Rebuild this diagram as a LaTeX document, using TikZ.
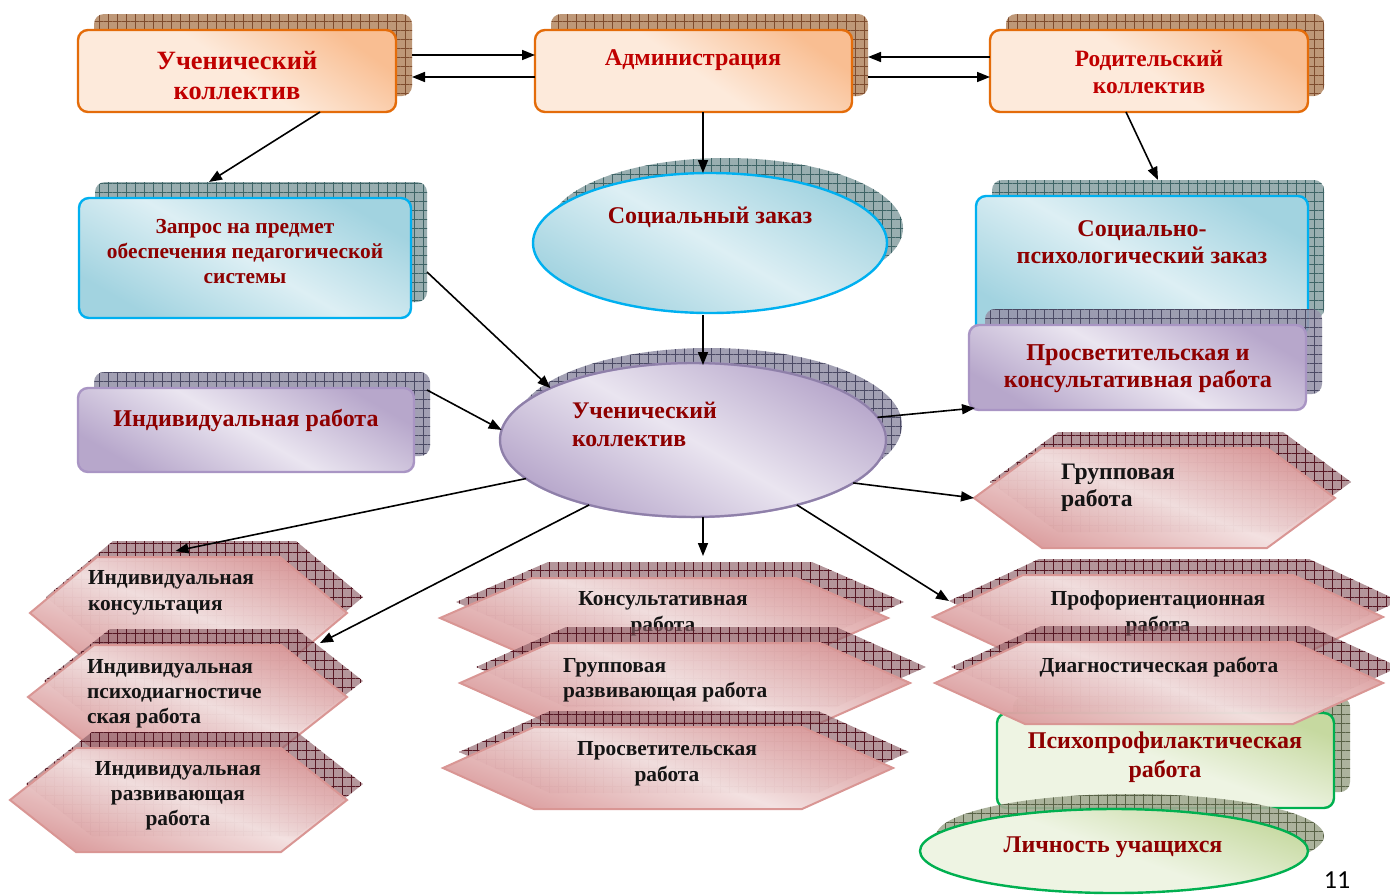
\documentclass[tikz,border=0pt]{standalone}
\usepackage{fontspec}
\setmainfont{Liberation Serif}
\newfontfamily\numfont{Carlito}
\usetikzlibrary{shapes.geometric,patterns.meta,calc,arrows.meta}
\definecolor{tred}{HTML}{C00000}
\definecolor{dred}{HTML}{8E0000}
\definecolor{hexink}{HTML}{141414}
% orange
\definecolor{or0}{HTML}{FDEADB}
\definecolor{or1}{HTML}{F9BE92}
\definecolor{orB}{HTML}{E46C0A}
\definecolor{orS}{HTML}{BE9878}
\definecolor{orL}{HTML}{7E4C2E}
% blue
\definecolor{bl0}{HTML}{DDEFF4}
\definecolor{bl1}{HTML}{A2D3E0}
\definecolor{blB}{HTML}{00B0F0}
\definecolor{blS}{HTML}{8FA6A8}
\definecolor{blL}{HTML}{3E6466}
% purple
\definecolor{pu0}{HTML}{EAE5F0}
\definecolor{pu1}{HTML}{B7A7CB}
\definecolor{puB}{HTML}{A995C4}
\definecolor{puE}{HTML}{8E80A8}
\definecolor{puS}{HTML}{9896AB}
\definecolor{puL}{HTML}{4B4A64}
% pink
\definecolor{pk0}{HTML}{F3E0E0}
\definecolor{pk1}{HTML}{DA9A9B}
\definecolor{pkB}{HTML}{D99694}
\definecolor{pkS}{HTML}{8E6068}
\definecolor{pkL}{HTML}{561824}
% green
\definecolor{gr0}{HTML}{EEF4E3}
\definecolor{gr1}{HTML}{C6D9A0}
\definecolor{grB}{HTML}{00B050}
\definecolor{grS}{HTML}{A3AB93}
\definecolor{grL}{HTML}{586246}
\tikzset{
  hatchgrid/.style={postaction={pattern={Hatch[distance=4.5pt,angle=0,line width=0.35pt]},pattern color=#1}},
  rbox/.style={rectangle,rounded corners=5pt,inner sep=0pt,outer sep=0pt},
  inv/.style={rectangle,inner sep=0pt,outer sep=0pt,draw=none},
  orsh/.style={fill=orS,hatchgrid=orL},
  blsh/.style={fill=blS,fill opacity=0.9,hatchgrid=blL},
  push/.style={fill=puS,fill opacity=0.9,hatchgrid=puL},
  grsh/.style={fill=grS,fill opacity=0.9,hatchgrid=grL},
  hexsh/.style={fill=pkS,fill opacity=0.66,hatchgrid=pkL},
  ormain/.style={draw=orB,line width=1.2pt,top color=or1,bottom color=or0,middle color=or0,shading angle=-35},
  blmain/.style={draw=blB,line width=1.2pt,top color=bl1,bottom color=bl1,middle color=bl0,shading angle=-30},
  pumain/.style={draw=puB,line width=1.2pt,top color=pu1,bottom color=pu1,middle color=pu0,shading angle=-30},
  puell/.style={draw=puE,line width=1pt},
  grmain/.style={draw=grB,line width=1.2pt,top color=gr1,bottom color=gr0,middle color=gr0,shading angle=-20},
  hexmain/.style={draw=pkB,line width=1pt,fill opacity=0.96,top color=pk1,bottom color=pk1,middle color=pk0,shading angle=-20},
  txt/.style={inner sep=0pt,outer sep=0pt,align=center},
  arr/.style={line width=0.8pt,-{Triangle[length=6.5pt,width=5pt]}},
}
\newcommand\MkBox[6]{%
  \node[rbox,#2sh,minimum width={(#5-#3)*0.5pt},minimum height={(#6-#4)*0.5pt}] (#1-s) at ({(#3+#5)/2+16},{(#4+#6)/2-16}) {};
  \node[rbox,#2main,minimum width={(#5-#3)*0.5pt},minimum height={(#6-#4)*0.5pt}] (#1) at ({(#3+#5)/2},{(#4+#6)/2}) {};}
\newcommand\MkHex[6]{%
  \path[hexsh] ({#2+16-#4},{#3-16}) -- ++(#6,-#5) -- ++({2*#4-2*#6},0) -- ++(#6,#5) -- ++(-#6,#5) -- ++({-2*#4+2*#6},0) -- cycle;
  \node[inv,minimum width={#4*1pt},minimum height={#5*1pt}] (#1-s) at ({#2+16},{#3-16}) {};
  \path[hexmain] ({#2-#4},#3) -- ++(#6,-#5) -- ++({2*#4-2*#6},0) -- ++(#6,#5) -- ++(-#6,#5) -- ++({-2*#4+2*#6},0) -- cycle;
  \node[inv,minimum width={#4*1pt},minimum height={#5*1pt}] (#1) at (#2,#3) {};}
\newcommand\MkEll[6]{%
  \node[ellipse,inner sep=0pt,outer sep=0pt,#2sh,minimum width={#5*1pt},minimum height={#6*1pt}] (#1-s) at ({#3+16},{#4-15}) {};
  \node[ellipse,inner sep=0pt,outer sep=0pt,#2main,minimum width={#5*1pt},minimum height={#6*1pt}] (#1) at (#3,#4) {};}
\begin{document}
\begin{tikzpicture}[x=0.5pt,y=-0.5pt]
\useasboundingbox (0,0) rectangle (1390,894);
\clip (0,0) rectangle (1390,894);
\fill[white] (0,0) rectangle (1390,894);

% ---- top row
\MkBox{A}{or}{78}{30}{396}{112}
\node[txt,font=\fontsize{13.2}{15}\selectfont\bfseries,text=tred] (A-t) at (237,76) {Ученический\\коллектив};
\MkBox{B}{or}{535}{30}{852}{112}
\node[txt,font=\fontsize{12}{14}\selectfont\bfseries,text=tred] (B-t) at (693,60) {Администрация};
\MkBox{C}{or}{990}{30}{1308}{112}
\node[txt,font=\fontsize{11.7}{13.5}\selectfont\bfseries,text=tred] (C-t) at (1149,72) {Родительский\\коллектив};

% ---- second row
\MkBox{Q}{bl}{79}{198}{411}{318}
\node[txt,font=\fontsize{10.7}{12.5}\selectfont\bfseries,text=dred] (Q-t) at (245,252) {Запрос на предмет\\обеспечения педагогической\\системы};
\MkEll{SZ}{bl}{710}{243}{177}{70}
\node[txt,font=\fontsize{12}{14}\selectfont\bfseries,text=dred] (SZ-t) at (710,217) {Социальный заказ};
\MkBox{SP}{bl}{976}{196}{1308}{335}
\node[txt,font=\fontsize{12}{13.5}\selectfont\bfseries,text=dred] (SP-t) at (1142,242) {Социально-\\психологический заказ};
\MkBox{PK}{pu}{969}{325}{1306}{410}
\node[txt,font=\fontsize{12.1}{13.5}\selectfont\bfseries,text=dred] (PK-t) at (1138,369) {Просветительская и\\консультативная работа};

% ---- third row
\MkBox{IW}{pu}{78}{388}{414}{472}
\node[txt,font=\fontsize{12}{14}\selectfont\bfseries,text=dred] (IW-t) at (246,420) {Индивидуальная работа};
\MkEll{UK}{pu}{693}{440}{193}{77}
\path[puell] (UK.center) ellipse [x radius=193,y radius=77];
\node[txt,align=left,anchor=west,font=\fontsize{11.9}{14}\selectfont\bfseries,text=dred] (UK-t) at (572,424) {Ученический\\коллектив};

% ---- left hex column
\MkHex{IK}{188.5}{613}{158.5}{56}{67}
\node[txt,align=left,anchor=west,font=\fontsize{10.7}{13}\selectfont\bfseries,text=hexink] (IK-t) at (88,593) {Индивидуальная\\консультация};
\MkHex{IP}{187.5}{697}{159.5}{52}{66}
\node[txt,align=left,anchor=west,font=\fontsize{10.7}{12.5}\selectfont\bfseries,text=hexink] (IP-t) at (87,694) {Индивидуальная\\психодиагностиче\\ская работа};
\MkHex{IR}{178.5}{800}{168.5}{52}{66}
\node[txt,font=\fontsize{10.7}{12.5}\selectfont\bfseries,text=hexink] (IR-t) at (178,796) {Индивидуальная\\развивающая\\работа};

% ---- middle hex column
\MkHex{KR}{664}{618}{224}{40}{92}
\node[txt,font=\fontsize{10.7}{13}\selectfont\bfseries,text=hexink] (KR-t) at (663,614) {Консультативная\\работа};
\MkHex{GR}{685}{683}{225}{40}{90}
\node[txt,align=left,anchor=west,font=\fontsize{10.7}{12.5}\selectfont\bfseries,text=hexink] (GR-t) at (563,680) {Групповая\\развивающая работа};
\MkHex{PR}{668}{768}{225}{41}{91}
\node[txt,font=\fontsize{10.7}{13}\selectfont\bfseries,text=hexink] (PR-t) at (667,764) {Просветительская\\работа};

% ---- right column
\MkHex{GW}{1154.5}{498}{180.5}{50}{68}
\node[txt,align=left,anchor=west,font=\fontsize{11.8}{13.5}\selectfont\bfseries,text=hexink] (GW-t) at (1061,488) {Групповая\\работа};
\MkBox{PP}{gr}{997}{713}{1334}{808}
\node[txt,font=\fontsize{12}{14.5}\selectfont\bfseries,text=dred] (PP-t) at (1165,757) {Психопрофилактическая\\работа};
\MkEll{LU}{gr}{1114}{851}{194}{42}
\node[txt,font=\fontsize{12}{14}\selectfont\bfseries,text=dred] (LU-t) at (1113,847) {Личность учащихся};
\MkHex{PO}{1158}{617}{225}{42}{90}
\node[txt,font=\fontsize{10.7}{13}\selectfont\bfseries,text=hexink] (PO-t) at (1158,613) {Профориентационная\\работа};
\MkHex{DR}{1159}{683}{224}{41}{90}
\node[txt,font=\fontsize{10.7}{13}\selectfont\bfseries,text=hexink] (DR-t) at (1159,667) {Диагностическая работа};

\node[inner sep=0pt,font=\numfont\fontsize{13}{13}\selectfont] (pg) at (1337,880) {11};

% ---- connectors
\draw[arr] (A-s.east) -- (A-s.east -| B.west);
\draw[arr] ($(A-s.east -| B.west)+(0,22)$) -- ($(A-s.east)+(0,22)$);
\draw[arr] ($(B-s.east -| C.west)+(0,2)$) -- ($(B-s.east)+(0,2)$);
\draw[arr] ($(B-s.east)+(0,22)$) -- ($(B-s.east -| C.west)+(0,22)$);
\draw[arr] ($(A.south)+(83,0)$) -- ($(Q-s.north)+(-52,0)$);
\draw[arr] ($(SZ.north |- B.south)+(-7,0)$) -- ($(SZ.north)+(-7,0)$);
\draw[arr] ($(C.south)+(-23,0)$) -- (SP-s.north);
\draw[arr] ($(SZ.south)+(-7,2)$) -- ($(SZ.south |- UK.north)+(-7,2)$);
\draw[arr] ($(Q-s.east)+(0,30)$) -- (UK.160);
\draw[arr] ($(IW-s.north east)+(-3,18)$) -- (UK.177);
\draw[arr] (UK.7) -- ($(PK.south west)+(6,-2)$);
\draw[arr] (UK.-15) -- (GW.west);
\draw[arr] (UK.193) -- ($(IK.north)+(-13,-6)$);
\draw[arr] (UK.212) -- ($(IP.north east)+(-27,-2)$);
\draw[arr] ($(UK.south)+(10,0)$) -- ($(UK.south |- KR-s.north)+(10,-6)$);
\draw[arr] (UK.-32) -- (PO-s.west);
\end{tikzpicture}
\end{document}
